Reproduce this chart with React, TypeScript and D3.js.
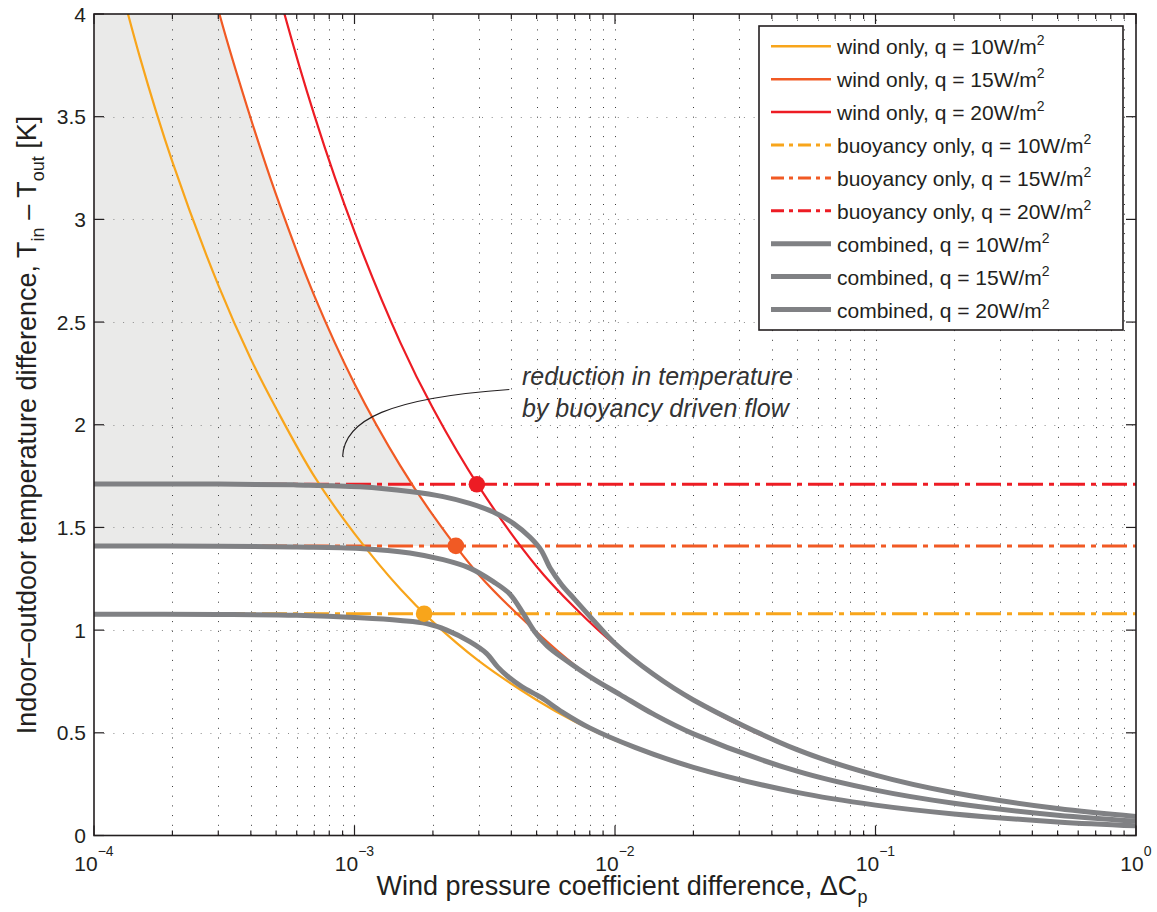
import React from 'react';
import * as d3 from 'd3';

// ---------- data ----------
const windX = [1e-4, 1.5e-4, 2e-4, 3e-4, 4e-4, 5e-4, 7e-4, 1e-3, 1.5e-3, 2e-3, 3e-3, 5e-3, 7e-3, 1e-2, 2e-2, 5e-2, 0.1, 0.2, 0.5, 1];
const wind10 = [4.64, 3.79, 3.28, 2.68, 2.32, 2.08, 1.75, 1.47, 1.2, 1.04, 0.85, 0.66, 0.555, 0.464, 0.328, 0.208, 0.147, 0.104, 0.066, 0.046];
const wind15 = [6.97, 5.69, 4.93, 4.02, 3.49, 3.12, 2.63, 2.2, 1.8, 1.56, 1.27, 0.99, 0.83, 0.697, 0.493, 0.312, 0.22, 0.156, 0.099, 0.07];
const wind20 = [9.29, 7.59, 6.57, 5.36, 4.65, 4.15, 3.51, 2.94, 2.4, 2.08, 1.7, 1.31, 1.11, 0.929, 0.657, 0.415, 0.294, 0.208, 0.131, 0.093];

const buoyancyLevels = [1.08, 1.41, 1.71];
const buoyancyX = [1e-4, 1];

const comb10X = [1e-4, 3e-4, 6e-4, 1.05e-3, 1.5e-3, 1.89e-3, 2.26e-3, 2.77e-3, 3.21e-3, 3.55e-3, 3.9e-3, 4.4e-3, 5.2e-3, 6.3e-3, 8e-3, 1.2e-2, 2e-2, 5e-2, 0.1, 0.2, 0.5, 1];
const comb10 = [1.077, 1.076, 1.072, 1.06, 1.047, 1.032, 1.0, 0.944, 0.887, 0.82, 0.772, 0.724, 0.672, 0.6, 0.524, 0.428, 0.332, 0.21, 0.148, 0.105, 0.066, 0.047];
const comb15X = [1e-4, 3e-4, 6e-4, 1.05e-3, 1.63e-3, 2.19e-3, 2.77e-3, 3.41e-3, 3.95e-3, 4.45e-3, 4.9e-3, 5.5e-3, 6.5e-3, 8.2e-3, 1.05e-2, 1.4e-2, 2e-2, 5e-2, 0.1, 0.2, 0.5, 1];
const comb15 = [1.41, 1.409, 1.405, 1.398, 1.376, 1.343, 1.302, 1.236, 1.175, 1.08, 0.995, 0.922, 0.852, 0.765, 0.685, 0.592, 0.495, 0.313, 0.221, 0.157, 0.099, 0.07];
const comb20X = [1e-4, 3e-4, 6e-4, 1.05e-3, 1.63e-3, 2.19e-3, 2.77e-3, 3.41e-3, 4.07e-3, 4.72e-3, 5.2e-3, 5.65e-3, 6.25e-3, 7e-3, 8.3e-3, 1e-2, 1.4e-2, 2e-2, 5e-2, 0.1, 0.2, 0.5, 1];
const comb20 = [1.712, 1.711, 1.707, 1.698, 1.675, 1.65, 1.617, 1.575, 1.52, 1.452, 1.39, 1.3, 1.22, 1.15, 1.045, 0.935, 0.786, 0.66, 0.418, 0.294, 0.208, 0.131, 0.093];

const dotX = [1.85e-3, 2.45e-3, 2.95e-3];
const dotY = [1.08, 1.41, 1.71];

const qLabels = ['10', '15', '20'];
const colors = ['#F8A51B', '#F15A24', '#ED1C24'];
const gray = '#808184';

const yTicks = [0, 0.5, 1, 1.5, 2, 2.5, 3, 3.5, 4];
const yTickLabels = ['0', '0.5', '1', '1.5', '2', '2.5', '3', '3.5', '4'];
const xDecades = [-4, -3, -2, -1, 0];

const shadeBottom = 1.41;
const shadeRightX = 2.45e-3;

const FONT = "'Liberation Sans', Arial, Helvetica, sans-serif";
const TXT = '#231F20';

export default function App() {
  const x = d3.scaleLog().domain([1e-4, 1]).range([94, 1136]);
  const y = d3.scaleLinear().domain([0, 4]).range([835.5, 14]);
  const [x0, x1] = x.range();
  const [y0, y1] = y.range();

  const curve = d3.curveCatmullRom.alpha(0.5);
  const line = (xs: number[], ys: number[]) =>
    d3.line<number>().x((i) => x(xs[i])).y((i) => y(ys[i])).curve(curve)(xs.map((_, i) => i)) || '';

  const shadeArea =
    d3
      .area<number>()
      .x((i) => x(windX[i]))
      .y0(() => y(shadeBottom))
      .y1((i) => y(wind15[i]))
      .curve(curve)(windX.map((_, i) => i)) || '';

  const winds = [wind10, wind15, wind20];
  const combs: [number[], number[]][] = [
    [comb10X, comb10],
    [comb15X, comb15],
    [comb20X, comb20],
  ];

  const gridX: number[] = [];
  const minorX: number[] = [];
  xDecades.forEach((d) => {
    if (d === 0) return;
    for (let m = 1; m <= 9; m++) {
      const v = m * Math.pow(10, d);
      if (m > 1) minorX.push(v);
      if (v > 1e-4) gridX.push(v);
    }
  });

  const legendX = 759, legendY = 26, legendW = 364, legendH = 304;
  const rowY = (i: number) => 46.3 + i * 32.9;
  const legendRows = [
    ...qLabels.map((q, i) => ({ label: 'wind only, q = ' + q + 'W/m', color: colors[i], dash: '', w: 2.5 })),
    ...qLabels.map((q, i) => ({ label: 'buoyancy only, q = ' + q + 'W/m', color: colors[i], dash: '13 5 4 5', w: 3 })),
    ...qLabels.map((q) => ({ label: 'combined, q = ' + q + 'W/m', color: gray, dash: '', w: 5 })),
  ];

  // annotation anchor points in data space
  const aStart = [9.0e-4, 1.844];
  const aEnd = [3.93e-3, 2.172];
  const sx = x(aStart[0]), sy = y(aStart[1]);
  const ex = x(aEnd[0]), ey = y(aEnd[1]);
  const annPath = `M${sx},${sy} C${sx + 1.5},${sy - 37} ${sx + 47},${sy - 59} ${ex},${ey}`;

  return (
    <svg width={1157} height={912} style={{ position: 'absolute', left: 0, top: 0, background: '#fff' }} fontFamily={FONT}>
      <defs>
        <clipPath id="plotClip">
          <rect x={x0} y={y1} width={x1 - x0} height={y0 - y1} />
        </clipPath>
        <clipPath id="shadeClip">
          <rect x={x0} y={y(4)} width={x(shadeRightX) - x0} height={y(shadeBottom) - y(4)} />
        </clipPath>
      </defs>
      <rect x={0} y={0} width={1157} height={912} fill="#fff" />

      {/* shaded region */}
      <g clipPath="url(#plotClip)">
        <path d={shadeArea} fill="#EAEAE9" clipPath="url(#shadeClip)" />
      </g>

      {/* grid */}
      <g stroke="#3a3a3a" strokeWidth={1} strokeDasharray="1 8.7">
        {gridX.map((v, i) => (
          <line key={'gx' + i} x1={Math.round(x(v)) + 0.5} x2={Math.round(x(v)) + 0.5} y1={y0} y2={y1} />
        ))}
      </g>
      <g stroke="#8a8a8a" strokeWidth={1} strokeDasharray="1 8.7">
        {yTicks.slice(1, -1).map((v, i) => (
          <line key={'gy' + i} x1={x0} x2={x1} y1={Math.round(y(v)) + 0.5} y2={Math.round(y(v)) + 0.5} />
        ))}
      </g>

      <g clipPath="url(#plotClip)" fill="none">
        {buoyancyLevels.map((b, i) => (
          <line key={'b' + i} x1={x(buoyancyX[0])} x2={x(buoyancyX[1])} y1={y(b)} y2={y(b)} stroke={colors[i]} strokeWidth={3} strokeDasharray="25 6 5 6" />
        ))}
        {winds.map((w, i) => (
          <path key={'w' + i} d={line(windX, w)} stroke={colors[i]} strokeWidth={2.2} />
        ))}
        {combs.map(([cx, cy], i) => (
          <path key={'c' + i} d={line(cx, cy)} stroke={gray} strokeWidth={5} strokeLinejoin="round" />
        ))}
        {dotX.map((v, i) => (
          <circle key={'d' + i} cx={x(v)} cy={y(dotY[i])} r={8.3} fill={colors[i]} stroke="none" />
        ))}
      </g>

      {/* annotation */}
      <path d={annPath} fill="none" stroke="#231F20" strokeWidth={1.1} />
      <g fontStyle="italic" fontSize={25} fill="#333">
        <text x={522} y={385}>reduction in temperature</text>
        <text x={522} y={417}>by buoyancy driven flow</text>
      </g>

      {/* axes box */}
      <rect x={x0} y={y1} width={x1 - x0} height={y0 - y1} fill="none" stroke="#231F20" strokeWidth={1.6} />

      {/* ticks */}
      <g stroke="#231F20" strokeWidth={1.2}>
        {xDecades.map((d) => {
          const px = x(Math.pow(10, d));
          return (
            <g key={'xt' + d}>
              <line x1={px} x2={px} y1={y0} y2={y0 - 10} />
              <line x1={px} x2={px} y1={y1} y2={y1 + 10} />
            </g>
          );
        })}
        {minorX.map((v, i) => (
          <g key={'xm' + i}>
            <line x1={x(v)} x2={x(v)} y1={y0} y2={y0 - 5} />
            <line x1={x(v)} x2={x(v)} y1={y1} y2={y1 + 5} />
          </g>
        ))}
        {yTicks.map((v, i) => (
          <g key={'yt' + i}>
            <line x1={x0} x2={x0 + 10} y1={y(v)} y2={y(v)} />
            <line x1={x1} x2={x1 - 10} y1={y(v)} y2={y(v)} />
          </g>
        ))}
      </g>

      {/* y tick labels */}
      <g fontSize={21} fill={TXT} textAnchor="end">
        {yTicks.map((v, i) => (
          <text key={'yl' + i} x={86} y={y(v) + 7.5}>
            {yTickLabels[i]}
          </text>
        ))}
      </g>

      {/* x tick labels: 10^d centred on the tick */}
      <g fill={TXT}>
        {xDecades.map((d) => {
          const px = x(Math.pow(10, d));
          const sup = d === 0 ? '0' : '\u2212' + Math.abs(d);
          const supW = d === 0 ? 8 : 16;
          const baseW = 23.4;
          const start = px - (baseW + supW) / 2;
          return (
            <g key={'xl' + d}>
              <text x={start} y={871} fontSize={21}>10</text>
              <text x={start + baseW} y={856} fontSize={14}>{sup}</text>
            </g>
          );
        })}
      </g>

      {/* x axis label */}
      <text x={622} y={895} fontSize={27} fill={TXT} textAnchor="middle">
        Wind pressure coefficient difference, ΔC
        <tspan fontSize={18} dy={8}>p</tspan>
      </text>

      {/* y axis label */}
      <text transform="translate(36,425) rotate(-90)" fontSize={27} fill={TXT} textAnchor="middle">
        Indoor–outdoor temperature difference, T
        <tspan fontSize={18} dy={8}>in</tspan>
        <tspan dy={-8}> – T</tspan>
        <tspan fontSize={18} dy={8}>out</tspan>
        <tspan dy={-8}> [K]</tspan>
      </text>

      {/* legend */}
      <rect x={legendX} y={legendY} width={legendW} height={legendH} fill="#fff" stroke="#231F20" strokeWidth={1.6} />
      {legendRows.map((r, i) => (
        <g key={'lg' + i}>
          <line x1={771} x2={831} y1={rowY(i)} y2={rowY(i)} stroke={r.color} strokeWidth={r.w} strokeDasharray={r.dash || undefined} />
          <text x={837} y={rowY(i) + 8} fontSize={21} fill={TXT}>
            {r.label}
            <tspan fontSize={14} dy={-9}>2</tspan>
          </text>
        </g>
      ))}
    </svg>
  );
}
